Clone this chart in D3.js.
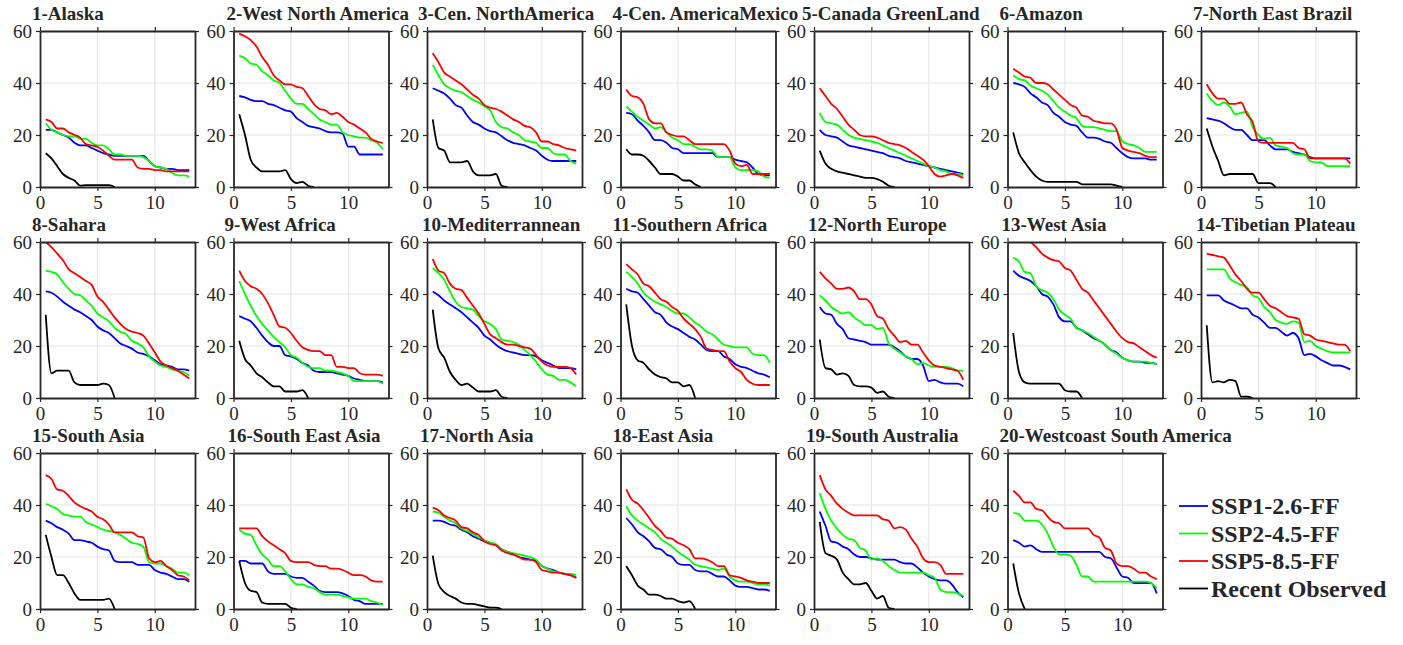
<!DOCTYPE html>
<html>
<head>
<meta charset="utf-8">
<script src="https://cdn.jsdelivr.net/npm/d3@7"></script>
<style>
    body { margin: 0; background: #fff; }
    svg text { font-family: "Liberation Serif", "Times New Roman", serif; fill: #262626; }
</style>
</head>
<body>
<div id="vis"></div>
<script>
// shared x positions (same for every series)
const xs = [0.5, 1, 1.5, 2, 2.5, 3, 3.5, 4, 4.5, 5, 5.5, 6, 6.5, 7, 7.5, 8, 8.5, 9, 9.5, 10, 10.5, 11, 11.5, 12, 12.5, 13];

const regionNames = [
    "1-Alaska", "2-West North America", "3-Cen. NorthAmerica", "4-Cen. AmericaMexico",
    "5-Canada GreenLand", "6-Amazon", "7-North East Brazil",
    "8-Sahara", "9-West Africa", "10-Mediterrannean", "11-Southern Africa",
    "12-North Europe", "13-West Asia", "14-Tibetian Plateau",
    "15-South Asia", "16-South East Asia", "17-North Asia", "18-East Asia",
    "19-South Australia", "20-Westcoast South America"
];

const seriesNames = ["SSP1-2.6-FF", "SSP2-4.5-FF", "SSP5-8.5-FF", "Recent Observed"];

// one row per region
const ssp126 = [
    [22,22,21,20,19,17,16,16,15,14,13,12.5,12,12,12,12,12,12,10,8,7.5,7,7,6.5,6.5,6.5],
    [35,34.5,33.5,33,33,32,31.5,30.5,29.5,29,26.5,25,23.5,23,22.5,21.5,21,21,20.5,15.5,15.5,12.5,12.5,12.5,12.5,12.5],
    [38,37,36,34,31.5,30.5,27.5,25,24,22.5,21.5,21,19.5,18,17,16.5,16,15,14,12,10.5,10,10,10,10,10],
    [28.5,28,25.5,23.5,21,18,18,17,15,14.5,13,13,13,13,13,13,11.5,11.5,11.5,10.5,10,9.5,7.5,5,4.5,4.5],
    [22,20,19.5,19,17.5,16,15.5,15,14.5,14,13.5,13,12,11.5,11,10,9.5,9,8.5,8,7.5,7,6.5,6,5.5,5],
    [40,39.5,38.5,36,34.5,32.5,31.5,28.5,27,25,24,23.5,21,19,19,18.5,17.5,17,15,13,11.5,11,11,11,10.5,10.5],
    [26.5,26,25.5,24.5,23,22,22,20,18,18,18,16,14.5,14.5,14.5,13.5,13,12.5,11.5,11,11,11,11,11,11,11],
    [41,40.5,39,37,35.5,34,33,31.5,30,27.5,26,25,23,21,20,19,17.5,17,16,14.5,13,12.5,12,11,11,10.5],
    [31.5,30.5,29.5,27,24,21.5,20,20,16.5,16,15,13.5,12.5,10.5,10,10,10,9.5,9,8.5,7.5,7,6.5,6.5,6.5,6],
    [41,39.5,37.5,36,34.5,33,31,29,27,24,22.5,20.5,19,18,17.5,17,16.5,16.5,16,14.5,13.5,12.5,11.5,11.5,11.5,11],
    [42,41,40.5,38,35.5,33,32,29,27.5,26.5,25,23.5,22.5,20.5,18.5,18,18,16,15,13,12,11.5,10.5,9.5,9,8],
    [35,32.5,32,28.5,26.5,23,22.5,22,21.5,20.5,20.5,20.5,20.5,19.5,18,16,15,15,12.5,6.5,7,6,5.5,5.5,5.5,4.5],
    [49,47,46,45,43,40,39,36,31,29.5,29.5,27,26,24.5,23,22,20.5,18.5,17.5,15.5,14.5,14,14,13.5,13.5,13],
    [39.5,39.5,39.5,37.5,36.5,35.5,34.5,34.5,32,31,29,27,27,25.5,24,25,23,16.5,17,16,14.5,13.5,12.5,12.5,12,11],
    [34,33,31.5,30.5,29,26.5,26.5,26,25.5,24,23,22.5,18.5,18,18,18,17,17,17,15,14,13.5,12.5,11.5,11.5,10.5],
    [18.5,18.5,17.5,17.5,17.5,14.5,13.5,13.5,13.5,12.5,12,12,10.5,9,7,6.5,6.5,6.5,6,5,3.5,3,2,2,2,2],
    [34,34,33.5,32.5,32,30.5,29.5,28,27,26,25.5,24.5,23,22,21,20,19.5,19,18.5,16.5,15.5,15,14,13.5,13,12],
    [35,32.5,29.5,28,26,23.5,23,21,20,17.5,17,17,15,14.5,14.5,13.5,12.5,12.5,11,9,8.5,8.5,8,7.5,7.5,7],
    [37.5,32,26,25.5,24,23,21,20,20,19.5,19,19,19,19,18,17.5,17.5,16,14,12.5,11.5,11,11,9.5,6.5,4.5],
    [26.5,25.5,24,24.5,23,22,22,22,22,22,22,22,22,22,22,22,20,19.5,16,12.5,12,10,10,10,10,6]
];

const ssp245 = [
    [24.5,22,21,20,19.5,19.5,18.5,18.5,17,16,16,14.5,12.5,12.5,12,12,12,11.5,10,8,7.5,7,5.5,4.5,4.5,4],
    [50.5,49.5,47.5,47,44.5,43,41,40,37,34,32,32,30,28,26,25,24,24,21,20,19.5,19,19,18,17,14.5],
    [47,43,39.5,38,37,36.5,35,33.5,32.5,31,29.5,25,23,22.5,21,20,18,17.5,17,15,15,13,12.5,12.5,10,9],
    [31,29,27,25.5,24,22.5,23,21,19,18,16.5,16.5,15.5,14.5,14.5,14,11.5,11.5,11.5,7.5,6.5,6.5,6.5,6,4,3.5],
    [28.5,25,24.5,24,22,20,19,18.5,18,17.5,17,16,15,14,13,12,11,10,9,8,7.5,6.5,6,5,5,4.5],
    [43,41.5,41,39,38,37,35.5,33,30.5,29,27.5,26.5,23.5,23,23,22.5,22,21.5,21.5,17.5,16.5,16,15,13.5,13.5,13.5],
    [36,33,31.5,32.5,31,28,28.5,29,23,20,18.5,19,16,15.5,15,13,12.5,12.5,10,9.5,9.5,8,8,8,8,8],
    [49,48.5,47.5,44.5,42,40,39.5,37.5,35.5,32.5,31,29.5,27,25.5,24.5,22,21,19.5,16,14,12.5,12,11,10.5,10,8.5],
    [45,40,35.5,31.5,28.5,26,23.5,21.5,19.5,16.5,15.5,13.5,12,11.5,11.5,10.5,10.5,10,9.5,8.5,6.5,6.5,6.5,6.5,6.5,5.5],
    [50,48,45.5,41,37,35,34.5,34,31.5,29.5,28.5,26.5,22.5,22,21.5,20.5,18.5,16.5,14,11,9,8.5,7,7,6,4.5],
    [48.5,46.5,44,40.5,38.5,37,36,35,33.5,32.5,32.5,31,29,27.5,25.5,24.5,22.5,20.5,20,19.5,19.5,19.5,17,16.5,16.5,13.5],
    [39.5,37.5,35,33.5,32.5,33,31,29.5,28,28,26.5,27,21,19,17.5,16,15,13,13.5,12.5,12,12,12,11.5,10.5,10.5],
    [54,52.5,48.5,48,43,41.5,40.5,38,34,32,30.5,27,26,25,23.5,22,20.5,18.5,17,15.5,14.5,14,14,14,13.5,13],
    [49.5,49.5,49.5,49.5,46,44.5,43.5,42.5,39.5,38.5,35,33,30,29,28.5,29.5,29,21.5,22,20,19,18,17.5,17.5,17.5,17.5],
    [40.5,39.5,38.5,36.5,36,35.5,35.5,33.5,32.5,31.5,30.5,30,29.5,28.5,27,25.5,25,24,18,17.5,17.5,16.5,15.5,14,14,13],
    [30.5,29,28.5,24.5,21,19,16.5,16.5,14.5,11.5,9.5,9.5,8.5,8,6.5,5.5,5.5,5.5,5,4.5,4,4,4,3,2.5,1.5],
    [37.5,37,35.5,34,33,31,30,29,27.5,26.5,25.5,25,23,22,21.5,21,20.5,20,19,16.5,15.5,14.5,14,13.5,13.5,13],
    [39.5,36,34,32.5,31,29.5,27,25.5,24,22,20.5,19,17,16.5,16,15.5,15,15.5,12.5,11,10.5,10.5,10,9.5,9.5,9],
    [44.5,38.5,34,31,28.5,27,26.5,23.5,22.5,19,19.5,18.5,16.5,15,14,14,14,14,14,13,12,7.5,6.5,6.5,6,5],
    [37,36.5,34,34,34,32.5,29,24,21,21,20.5,17,12.5,12.5,10.5,10.5,10.5,10.5,10.5,10.5,10.5,10.5,10.5,10.5,10,8]
];

const ssp585 = [
    [26,25,22.5,22.5,21,20,19,16.5,16,15.5,14,12,10.5,10.5,10.5,10.5,7.5,7,7,6.5,6.5,6,6,6,6,6],
    [59,58,56.5,54,50,47,43,41,39.5,39.5,38.5,38,35,32,30,29.5,28,28.5,27,25,24,22.5,21,18.5,17.5,17],
    [51.5,48,44,42.5,41,39.5,37.5,35.5,34,31.5,30.5,30,29,27.5,26,25,23.5,23,21,17.5,17.5,16.5,16,15,14.5,14],
    [37.5,35,34.5,32,26,24.5,24.5,21,20,19.5,19.5,18,16.5,16.5,16.5,16.5,16.5,16.5,14,9,8,8.5,5,5,5,5],
    [38,35,32,30,27,24,22,20,19.5,19.5,19,18,17,16.5,16,15,13.5,12,10.5,8,5,4,4.5,5,4.5,3.5],
    [45.5,44,42.5,42,40,40,39.5,37.5,35.5,33.5,31.5,30.5,27.5,27,25.5,25,24.5,24.5,22,15,14,13.5,13,12,11.5,11.5],
    [39.5,36,34,34,32,32,32.5,28,25,17.5,17,17,17,17,17,17,15,14.5,11,11,11,11,11,11,11,9],
    [60,58,55.5,53,49.5,48,46.5,45,43.5,39,37,34,31,28.5,26.5,25.5,25,24,21,17.5,14,12.5,11.5,10.5,9,7.5],
    [49,45,43,42,40,36.5,32,27.5,27,25,22,19.5,18.5,18,18,16.5,16.5,12,12,11.5,11.5,9.5,9,9,9,8.5],
    [53.5,49,48,44,42,41.5,38.5,35.5,32.5,28.5,24.5,23,21.5,20.5,20.5,20,19.5,19,16.5,14,12.5,12,12,12,11.5,9],
    [51.5,49.5,47.5,44,43,40.5,38,37,35,33.5,30.5,28.5,26.5,23.5,19,18.5,18,18,14,11.5,10,7,5.5,5,5,5],
    [48.5,46,44,42,42,42.5,41,38,38,36,31.5,30.5,26.5,24,21.5,22,20.5,20.5,17.5,14.5,12.5,12,11.5,11,10.5,7],
    [65,63.5,62,60,58,55.5,54,53,52.5,50,49,45.5,42,40.5,37.5,34.5,31.5,28.5,25.5,23,21.5,21,19.5,18,16.5,15.5],
    [55.5,55,54.5,54,51,47.5,45,42,40.5,40.5,38,35.5,34.5,33,31.5,31,30.5,24.5,24,22.5,22,21.5,21,20.5,20.5,18],
    [51.5,50,46,45.5,43.5,41,39.5,38.5,37.5,35.5,34.5,32.5,29.5,29.5,29.5,29.5,28,27.5,19.5,18,18.5,16.5,15,13,12.5,11],
    [31,31,31,31,28,26,24.5,23,21.5,18.5,18,18,18,17,16.5,16.5,15.5,15.5,15,14,13,13,12.5,11,10.5,10.5],
    [39,38,36,35,34,31.5,31,29.5,28.5,26,25,24.5,22.5,21.5,21,20,19,19,18,15,14.5,14,14,13.5,13,12],
    [46,42,40.5,38,35,32,30,27.5,27,25.5,24.5,23,19.5,19.5,19,18,16.5,16.5,13,12.5,12,11,10.5,10,10,10],
    [51.5,46,43.5,40.5,38.5,37,36,36,36,36,36,34.5,34,31,31.5,30.5,27,24,19.5,18,18,17,13.5,13.5,13.5,13.5],
    [45.5,43.5,41,41,38.5,38,35.5,33.5,33,31,31,31,31,31,28.5,27.5,23.5,22.5,17.5,16.5,16.5,15.5,14,14,12.5,11.5]
];

// observed series stop once they reach zero
const observed = [
    [13,11,8,5,3.5,2.5,0.5,0.7,0.7,0.7,0.7,0.7,0],
    [28,20,10.5,7.5,6,6,6,6,6.5,3,1.5,2,0.5,0],
    [26,15,14,9.5,9.5,9.5,10,6,4.5,4.5,4.5,5,0.5,0],
    [14.5,12.5,12.5,12,10,7.5,5,5,5,4,2.5,2.5,1,0],
    [14,9,7,6,5.5,5,4.5,4,3.5,3.5,3,2,0.5,0],
    [21,13,9.5,6.5,4,2.5,2,2,2,2,2,2,1,1,1,1,1,1,0.5,0],
    [22.5,15.5,10,4.5,5,5,5,5,5,1.5,1.5,1.5,0],
    [32,9.5,10.5,10.5,10.5,6,5,5,5,5,5.5,5,0],
    [22,15,12.5,9.5,8,6,4.5,4.5,2.5,2.5,2.5,3,0],
    [34,19,15.5,10,7,5,5.5,4,2.5,2.5,2.5,3,0.5,0],
    [36,20,14.5,13.5,11,9,8,7.5,6,6,4.5,5,0],
    [22.5,11.5,11,9,9.5,8.5,5,4.5,4.5,4,2,2.5,0.5,0],
    [25,10,6,5.5,5.5,5.5,5.5,5.5,5.5,3,2.5,2.5,0],
    [28,6,6.5,6,7,6.5,0.5,0.5,0],
    [28.5,20,13,13,10,6,3.5,3.5,3.5,3.5,3.5,4,0],
    [18.5,10,7,6.5,2.5,2,2,2,2,0.5,0],
    [20.5,9.5,6.5,5,4,2.5,2,2,1.5,1,0.5,0.5,0],
    [16.5,13,9,7.5,5.5,5.5,5,4,4,3,2.5,3,0],
    [33.5,21.5,20.5,19,14,11.5,9.5,9.5,10,7,4,5,0.5,0],
    [17.5,6,0]
];

const xTicks = [0, 5, 10];
const yTicks = [0, 20, 40, 60];
const colors = ["#0000ff", "#00ff00", "#ff0000", "#000000"];

const W = 1403, H = 645;
const nCols = 7;
const panel = { left: 40, top: 31, dx: 193.5, dy: 211, width: 155, height: 156 };
// where each title starts, relative to its panel's left axis
const titleShift = [-8, -7, -9, -8, -12, -8, -8, -8, -9, -5, -8, -6, -6, -5, -8, -6, -7, -8, -8, -8];

const svg = d3.select("#vis").append("svg")
    .attr("width", W)
    .attr("height", H);

const x = d3.scaleLinear().domain([0, 13.5]).range([0, panel.width]);
const y = d3.scaleLinear().domain([0, 60]).range([panel.height, 0]);

const line = d3.line()
    .x((d, i) => x(xs[i]))
    .y(d => y(d))
    .curve(d3.curveMonotoneX);

svg.append("defs").append("clipPath")
    .attr("id", "plot-clip")
    .append("rect")
    .attr("width", panel.width)
    .attr("height", panel.height);

function styleAxis(g) {
    g.select(".domain").attr("stroke", "#262626").attr("stroke-width", 1.8);
    g.selectAll(".tick line").attr("stroke", "#262626").attr("stroke-width", 1.2);
    g.selectAll(".tick text")
        .style("font-family", '"Liberation Serif", "Times New Roman", serif')
        .style("font-size", "19px")
        .attr("fill", "#262626");
}

regionNames.forEach((name, i) => {
    const row = Math.floor(i / nCols);
    const col = i % nCols;
    const g = svg.append("g")
        .attr("transform", `translate(${panel.left + col * panel.dx},${panel.top + row * panel.dy})`);

    // grid
    g.selectAll(".vgrid").data(xTicks.slice(1)).enter().append("line")
        .attr("x1", d => x(d)).attr("x2", d => x(d))
        .attr("y1", 0).attr("y2", panel.height)
        .attr("stroke", "#e3e3e3").attr("stroke-width", 1);
    g.selectAll(".hgrid").data(yTicks.slice(1, -1)).enter().append("line")
        .attr("x1", 0).attr("x2", panel.width)
        .attr("y1", d => y(d)).attr("y2", d => y(d))
        .attr("stroke", "#e3e3e3").attr("stroke-width", 1);

    // series
    const plot = g.append("g").attr("clip-path", "url(#plot-clip)");
    [ssp126[i], ssp245[i], ssp585[i], observed[i]].forEach((vals, k) => {
        plot.append("path")
            .datum(vals)
            .attr("fill", "none")
            .attr("stroke", colors[k])
            .attr("stroke-width", 1.8)
            .attr("stroke-linejoin", "round")
            .attr("d", line);
    });

    // box with ticks on all sides
    g.append("g").attr("transform", `translate(0,${panel.height})`)
        .call(d3.axisBottom(x).tickValues(xTicks).tickSize(4).tickSizeOuter(0).tickPadding(5))
        .call(styleAxis);
    g.append("g")
        .call(d3.axisLeft(y).tickValues(yTicks).tickSize(4).tickSizeOuter(0).tickPadding(4))
        .call(styleAxis);
    g.append("g")
        .call(d3.axisTop(x).tickValues(xTicks).tickSize(4).tickSizeOuter(0).tickFormat(""))
        .call(styleAxis);
    g.append("g").attr("transform", `translate(${panel.width},0)`)
        .call(d3.axisRight(y).tickValues(yTicks).tickSize(4).tickSizeOuter(0).tickFormat(""))
        .call(styleAxis);

    g.append("text")
        .attr("x", titleShift[i])
        .attr("y", -11)
        .style("font-size", "19px")
        .style("font-weight", "bold")
        .attr("fill", "#000")
        .text(name);
});

// legend
const legend = svg.append("g").attr("transform", "translate(1179,506)");
seriesNames.forEach((s, k) => {
    const row = legend.append("g").attr("transform", `translate(0,${k * 27.5})`);
    row.append("line")
        .attr("x1", 0).attr("x2", 29)
        .attr("stroke", colors[k]).attr("stroke-width", 1.8);
    row.append("text")
        .attr("x", 32)
        .attr("dy", "0.35em")
        .style("font-size", "24px")
        .style("font-weight", "bold")
        .attr("fill", "#000")
        .text(s);
});
</script>
</body>
</html>
